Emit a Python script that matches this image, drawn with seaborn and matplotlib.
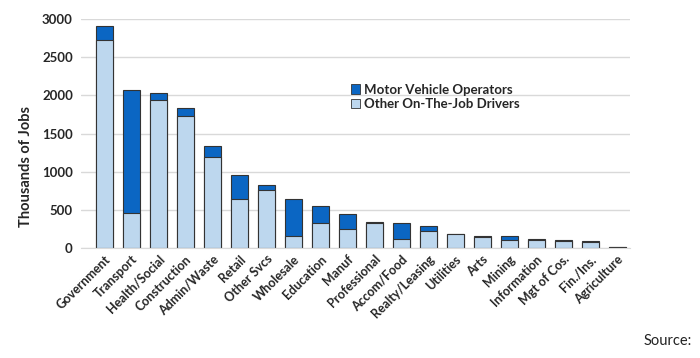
import matplotlib
matplotlib.use("Agg")
import matplotlib.pyplot as plt
import seaborn as sns
import pandas as pd
from matplotlib.patches import Patch

industries = ["Government", "Transport", "Health/Social", "Construction",
              "Admin/Waste", "Retail", "Other Svcs", "Wholesale", "Education",
              "Manuf", "Professional", "Accom/Food", "Realty/Leasing",
              "Utilities", "Arts", "Mining", "Information", "Mgt of Cos.",
              "Fin./Ins.", "Agriculture"]
# thousands of jobs
other_drivers = [2725, 460, 1940, 1725, 1197, 642, 760, 153, 332, 255,
                 328, 114, 223, 182, 146, 109, 106, 93, 80, 10]
motor_operators = [180, 1605, 92, 110, 140, 320, 62, 493, 223, 195,
                   8, 218, 65, 7, 11, 44, 12, 12, 12, 7]

DARK = "#0b66c3"
LIGHT = "#bdd7ee"

df = pd.DataFrame({"industry": industries,
                   "other": other_drivers,
                   "motor": motor_operators})
df["total"] = df["other"] + df["motor"]

sns.set_style("white")
plt.rcParams["font.family"] = ["Lato", "DejaVu Sans"]

fig = plt.figure(figsize=(7, 3.58), dpi=100)
ax = fig.add_axes([0.116, 0.307, 0.784, 0.64])

# dark bar = full total, light bar drawn over it from zero
sns.barplot(data=df, x="industry", y="total", color=DARK, width=0.63,
            saturation=1, edgecolor="#333333", linewidth=0.8, ax=ax)
sns.barplot(data=df, x="industry", y="other", color=LIGHT, width=0.63,
            saturation=1, edgecolor="#333333", linewidth=0.8, ax=ax)

ax.set_ylim(0, 3000)
ax.set_xlim(-0.85, 19.48)
ax.set_yticks(range(0, 3001, 500))
ax.yaxis.grid(True, color="#d9d9d9", linewidth=1)
ax.set_axisbelow(True)
for s in ["top", "right", "left"]:
    ax.spines[s].set_visible(False)
ax.spines["bottom"].set_color("#d9d9d9")
ax.tick_params(axis="both", length=0, labelsize=9.5)
ax.tick_params(axis="y", pad=6)
for lab in ax.get_yticklabels():
    lab.set_fontweight("bold")
ax.set_xticks(range(len(industries)))
ax.set_xticklabels(industries, rotation=45, ha="right",
                   rotation_mode="anchor", fontsize=9, fontweight="bold")
ax.set_xlabel("")
ax.set_ylabel("Thousands of Jobs", fontsize=10.5, fontweight="bold")
ax.yaxis.set_label_coords(-0.087, 0.354)

handles = [Patch(facecolor=DARK, edgecolor="#333333", linewidth=0.6,
                 label="Motor Vehicle Operators"),
           Patch(facecolor=LIGHT, edgecolor="#333333", linewidth=0.6,
                 label="Other On-The-Job Drivers")]
leg = ax.legend(handles=handles, loc="upper left",
                bbox_to_anchor=(0.47, 0.77), frameon=False,
                handlelength=0.7, handleheight=0.7, handletextpad=0.3,
                labelspacing=0.2, prop={"weight": "bold", "size": 9.5})

fig.text(0.919, 0.035, "Source:", fontsize=10.5, color="#222222")

fig.savefig("out.png", dpi=100, facecolor="white")
